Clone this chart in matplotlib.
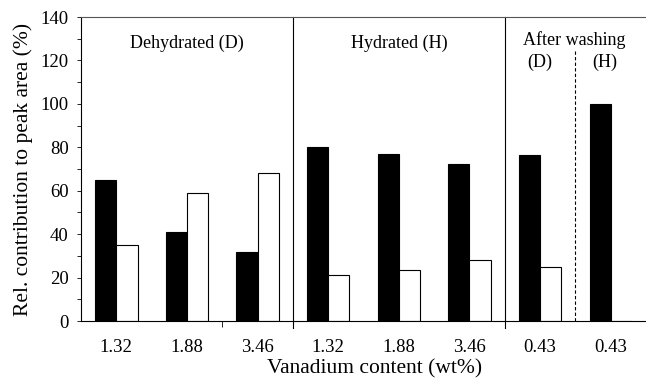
import matplotlib
matplotlib.use("Agg")
import matplotlib.pyplot as plt
import numpy as np

labels = ["1.32", "1.88", "3.46", "1.32", "1.88", "3.46", "0.43", "0.43"]
black_vals = [65, 41, 32, 80, 77, 72.5, 76.5, 100]
white_vals = [35, 59, 68, 21, 23.5, 28, 25, 0]

plt.rcParams['font.family'] = ['Liberation Serif', 'DejaVu Serif']

fig = plt.figure(figsize=(6.46, 3.79), dpi=100)
ax = fig.add_axes([0.1254, 0.153, 0.8746, 0.802])

x = np.arange(len(labels))
w = 0.3
ax.bar(x - w/2, black_vals, width=w, color='black', edgecolor='black', linewidth=0.8)
ax.bar(x + w/2, white_vals, width=w, color='white', edgecolor='black', linewidth=0.8)

ax.set_xlim(-0.5, 7.5)
ax.set_ylim(0, 140)
ax.set_yticks(np.arange(0, 141, 20))
ax.set_yticks(np.arange(0, 141, 10), minor=True)
ax.tick_params(axis='y', which='both', direction='out', length=3, width=0.6, labelsize=13.5, pad=6)
ax.set_xticks(x)
ax.set_xticklabels(labels)
ax.tick_params(axis='x', which='major', length=0, labelsize=13.5, pad=13)
ax.set_xticks([1.5], minor=True)
ax.tick_params(axis='x', which='minor', direction='out', length=4, width=0.6)

ax.spines['right'].set_visible(False)
ax.spines['top'].set_color('#555555')
ax.spines['top'].set_linewidth(0.8)
ax.spines['left'].set_linewidth(0.8)
ax.spines['bottom'].set_linewidth(0.8)

# separators
for xs in [2.5, 5.5]:
    ax.plot([xs, xs], [-3.3, 140], color='black', lw=0.8, clip_on=False)
ax.plot([6.5, 6.5], [0, 125], color='black', lw=0.8, ls=(0, (3, 2)), clip_on=False)

ax.text(1.0, 128, "Dehydrated (D)", ha='center', va='center', fontsize=13)
ax.text(4.0, 128, "Hydrated (H)", ha='center', va='center', fontsize=13)
ax.text(6.48, 129.5, "After washing", ha='center', va='center', fontsize=13)
ax.text(6.0, 119, "(D)", ha='center', va='center', fontsize=13)
ax.text(6.92, 119, "(H)", ha='center', va='center', fontsize=13)

ax.set_ylabel("Rel. contribution to peak area (%)", fontsize=15.5, labelpad=5)
fig.text(375 / 646, 6 / 379, "Vanadium content (wt%)", ha='center', va='baseline', fontsize=15.5)

fig.savefig("out.png", dpi=100)
